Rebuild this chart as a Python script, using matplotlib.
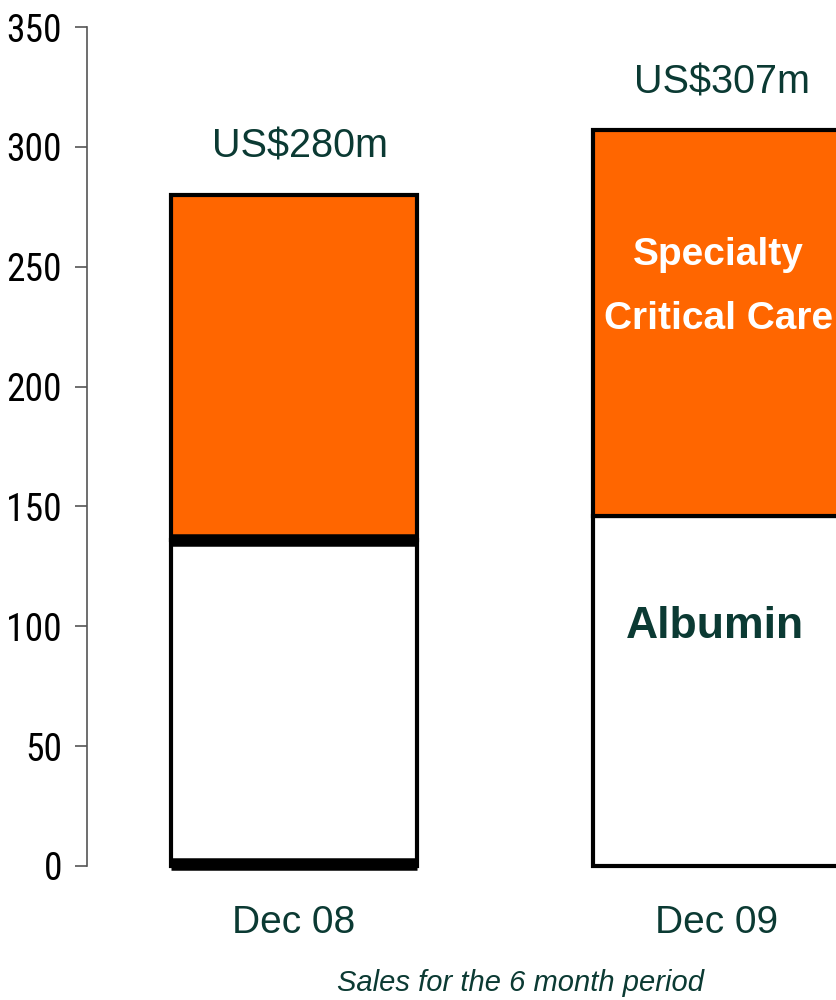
import matplotlib
matplotlib.use("Agg")
import matplotlib.pyplot as plt
from matplotlib import font_manager

# Half-year sales, US$m
periods = ['Dec 08', 'Dec 09']
albumin = [136, 146]
specialty = [144, 161]
totals = [a + s for a, s in zip(albumin, specialty)]
total_labels = ['US$280m', 'US$307m']

teal = '#0b3a33'
orange = '#ff6600'

plt.rcParams['font.family'] = ['Liberation Sans', 'DejaVu Sans']

# narrow face for the value axis, if one is installed
names = {f.name for f in font_manager.fontManager.ttflist}
narrow = None
for cand in ['Liberation Sans Narrow', 'Arial Narrow', 'DejaVu Sans Condensed', 'Roboto Condensed']:
    if cand in names:
        narrow = cand
        break
condensed_dejavu = any(f.name == 'DejaVu Sans' and f.stretch == 'condensed'
                       for f in font_manager.fontManager.ttflist)

fig = plt.figure(figsize=(8.36, 10), dpi=100)
ax = fig.add_axes([0.104, 0.134, 0.896, 0.839])

x = list(range(len(periods)))
width = 0.583
ax.bar(x, albumin, width, color='white', edgecolor='black', linewidth=3, zorder=2, clip_on=False)
ax.bar(x, specialty, width, bottom=albumin, color=orange, edgecolor='black', linewidth=3,
       zorder=2, clip_on=False)

# heavier rules on the first bar (base and split)
left0, right0 = x[0] - width / 2, x[0] + width / 2
ax.hlines([1, albumin[0]], left0, right0, colors='black', linewidth=9,
          capstyle='butt', zorder=3, clip_on=False)

for xi, tot, lab in zip(x, totals, total_labels):
    ax.text(xi + 0.015, tot + 20, lab, ha='center', va='center', fontsize=28.5, color=teal)

ax.text(x[1] + 0.005, albumin[1] + specialty[1] * 0.677, 'Specialty', ha='center', va='center',
        fontsize=28, fontweight='bold', color='white')
ax.text(x[1] + 0.005, albumin[1] + specialty[1] * 0.51, 'Critical Care', ha='center', va='center',
        fontsize=28, fontweight='bold', color='white')
ax.text(x[1] - 0.003, 100, 'Albumin', ha='center', va='center',
        fontsize=32, fontweight='bold', color=teal)

ax.set_ylim(0, 350)
ax.set_xlim(-0.4905, 1.284)
ax.set_yticks(range(0, 351, 50))
ax.set_xticks(x)
ax.set_xticklabels(periods, fontsize=28, color=teal)
ax.tick_params(axis='x', length=0, pad=28)
ax.tick_params(axis='y', length=9, width=1.2, color='#555555', pad=9)
for lab in ax.get_yticklabels():
    if narrow:
        lab.set_family([narrow, 'Liberation Sans'])
        lab.set_fontsize(27)
    elif condensed_dejavu:
        lab.set_family('DejaVu Sans')
        lab.set_stretch('condensed')
        lab.set_fontsize(24)
    else:
        lab.set_family('Liberation Sans')
        lab.set_fontsize(23)
    lab.set_color('black')

for side in ['top', 'right', 'bottom']:
    ax.spines[side].set_visible(False)
ax.spines['left'].set_color('#555555')
ax.spines['left'].set_linewidth(1.2)

fig.text(0.623, 0.017, 'Sales for the 6 month period', ha='center', va='center',
         fontsize=21, style='italic', color=teal)

fig.savefig('out.png', dpi=100, facecolor='white')
